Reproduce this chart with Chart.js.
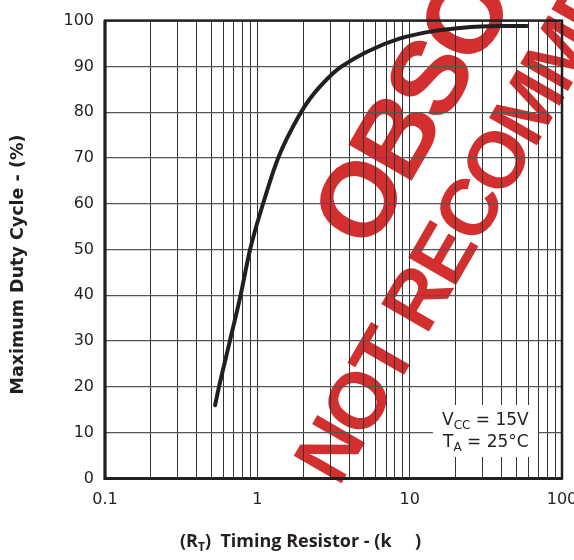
<!DOCTYPE html>
<html>
<head>
<meta charset="utf-8">
<script src="https://cdn.jsdelivr.net/npm/chart.js@4"></script>
<style>
  body { margin: 0; background: #fff; }
  #wrap { width: 574px; height: 560px; position: relative; }
</style>
</head>
<body>
<div id="wrap"><canvas id="dutyChart"></canvas></div>
<script>
// Timing resistor (kOhm) vs maximum duty cycle (%)
const timingResistor = [0.528, 0.56, 0.66, 0.776, 0.896, 1.09, 1.37, 1.89, 2.22, 3.14, 3.58, 5.25, 8.65, 14.3, 21.4, 39, 59];
const maxDutyCycle = [16, 20, 30, 40, 50, 60, 70, 79.4, 83, 88.5, 90, 93.2, 96.1, 97.7, 98.4, 98.8, 98.8];

const xMajorTicks = [0.1, 1, 10, 100];
const xTickLabels = ['0.1', '1', '10', '100'];
const yTicks = [0, 10, 20, 30, 40, 50, 60, 70, 80, 90, 100];

const ink = '#231f20';
const red = '#d32f2f';

// log grid: 1..9 in every decade
function logGrid() {
  const vals = [];
  for (let d = 0; d < xMajorTicks.length - 1; d++) {
    for (let k = 1; k < 10; k++) vals.push(xMajorTicks[d] * k);
  }
  vals.push(xMajorTicks[xMajorTicks.length - 1]);
  return vals;
}

// draws text with a subscript part, returns end x
function subText(ctx, parts, x, y, font, subFont) {
  for (const p of parts) {
    ctx.font = p.sub ? subFont : font;
    ctx.fillText(p.t, x, y + (p.sub ? 4 : 0));
    x += ctx.measureText(p.t).width;
  }
  return x;
}

const watermark = {
  id: 'watermark',
  beforeDraw(chart) {
    const ctx = chart.ctx;
    ctx.save();
    ctx.translate(357.5, 198.5);
    ctx.rotate(-60 * Math.PI / 180);
    ctx.fillStyle = red;
    ctx.textBaseline = 'alphabetic';
    ctx.font = 'bold 106px "Liberation Sans"';
    const oHalf = ctx.measureText('O').width / 2;
    ctx.letterSpacing = '-6px';
    ctx.fillText('OBSOLETE', -oHalf, 38);
    ctx.font = 'bold 80px "Liberation Sans"';
    ctx.letterSpacing = '-4px';
    ctx.fillText('NOT RECOMMENDED', -260, 128.5);
    ctx.restore();
  }
};

const decorations = {
  id: 'decorations',
  afterDraw(chart) {
    const ctx = chart.ctx;
    const a = chart.chartArea;
    ctx.save();
    // frame
    ctx.strokeStyle = ink;
    ctx.lineWidth = 2.5;
    ctx.strokeRect(a.left, a.top, a.right - a.left, a.bottom - a.top);
    ctx.lineWidth = 3;
    ctx.beginPath();
    ctx.moveTo(a.left, a.top);
    ctx.lineTo(a.left, a.bottom);
    ctx.lineTo(a.right, a.bottom);
    ctx.stroke();

    // conditions box
    ctx.fillStyle = '#fff';
    ctx.fillRect(433, 405, 105, 52);
    ctx.fillStyle = ink;
    ctx.textBaseline = 'alphabetic';
    const f = '17px "DejaVu Sans"';
    const sf = '12px "DejaVu Sans"';
    subText(ctx, [{t: 'V'}, {t: 'CC', sub: true}, {t: ' = 15V'}], 442, 425, f, sf);
    subText(ctx, [{t: 'T'}, {t: 'A', sub: true}, {t: ' = 25°C'}], 443, 447, f, sf);

    // axis titles
    ctx.font = 'bold 17.5px "DejaVu Sans"';
    ctx.save();
    ctx.translate(18.5, 264.5);
    ctx.rotate(-Math.PI / 2);
    ctx.textAlign = 'center';
    ctx.textBaseline = 'middle';
    ctx.fillText('Maximum Duty Cycle - (%)', 0, 0);
    ctx.restore();

    const tf = 'bold 18px "Open Sans"';
    const tsf = 'bold 12px "Open Sans"';
    subText(ctx, [{t: '(R'}, {t: 'T', sub: true}, {t: ')  Timing Resistor - (k     )'}], 180, 547, tf, tsf);
    ctx.restore();
  }
};

const grid = logGrid();

new Chart(document.getElementById('dutyChart'), {
  type: 'line',
  data: {
    datasets: [{
      data: timingResistor.map((x, i) => ({ x: x, y: maxDutyCycle[i] })),
      borderColor: ink,
      borderWidth: 4,
      pointRadius: 0,
      fill: false,
      cubicInterpolationMode: 'monotone',
      borderCapStyle: 'round'
    }]
  },
  options: {
    responsive: true,
    maintainAspectRatio: false,
    animation: false,
    layout: { padding: { top: 20.5, right: 12, left: 0, bottom: 0 } },
    plugins: { legend: { display: false }, tooltip: { enabled: false } },
    scales: {
      x: {
        type: 'logarithmic',
        min: 0.1,
        max: 100,
        afterBuildTicks: (scale) => { scale.ticks = grid.map(v => ({ value: v })); },
        afterFit: (scale) => {
          scale.height = 81.5;
          scale.paddingLeft = 0;
          scale.paddingRight = 0;
        },
        border: { display: false },
        grid: { color: '#333', lineWidth: 1, drawTicks: false },
        ticks: {
          autoSkip: false,
          maxRotation: 0,
          padding: 12,
          color: ink,
          font: { family: 'DejaVu Sans', size: 16 },
          callback: (v) => {
            const i = xMajorTicks.findIndex(m => Math.abs(m - v) < 1e-9);
            return i >= 0 ? xTickLabels[i] : '';
          }
        }
      },
      y: {
        min: 0,
        max: 100,
        afterBuildTicks: (scale) => { scale.ticks = yTicks.map(v => ({ value: v })); },
        afterFit: (scale) => { scale.width = 105; },
        border: { display: false },
        grid: { color: '#555', lineWidth: 1.3, drawTicks: false },
        ticks: {
          padding: 11,
          color: ink,
          font: { family: 'DejaVu Sans', size: 16 }
        }
      }
    }
  },
  plugins: [watermark, decorations]
});
</script>
</body>
</html>
